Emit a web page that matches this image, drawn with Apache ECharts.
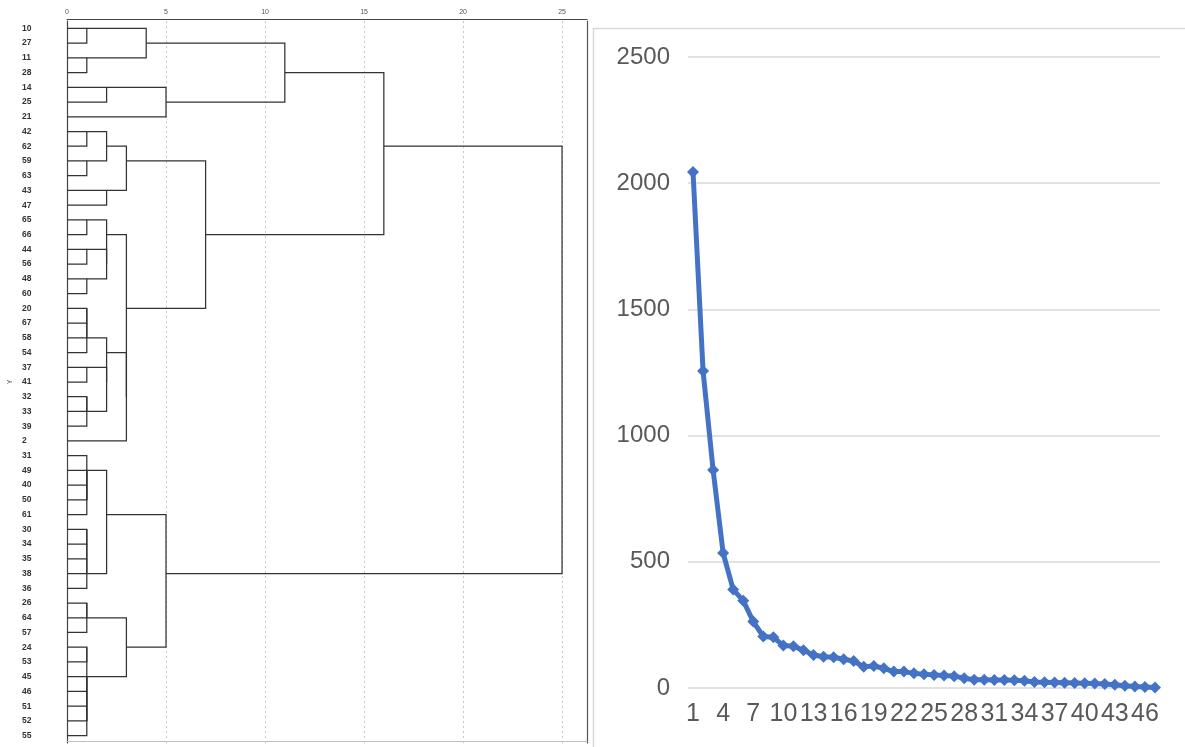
<!DOCTYPE html>
<html>
<head>
<meta charset="utf-8">
<script src="https://cdn.jsdelivr.net/npm/echarts@6/dist/echarts.min.js"></script>
<style>
html,body{margin:0;padding:0;background:#fff;}
#c{width:1185px;height:747px;}
</style>
</head>
<body>
<div id="c"></div>
<script>
// ---- Dendrogram data ----
const leafLabels = ['10','27','11','28','14','25','21','42','62','59','63','43','47','65','66','44','56','48','60','20','67','58','54','37','41','32','33','39','2','31','49','40','50','61','30','34','35','38','36','26','64','57','24','53','45','46','51','52','55'];
// merges: [childA, childB, rescaled distance]; children are leaf labels or 'm<index>'
const merges = [
  ['10','27',1], ['11','28',1], ['m0','m1',4], ['14','25',2], ['m3','21',5], ['m2','m4',11],
  ['42','62',1], ['59','63',1], ['m6','m7',2], ['43','47',2], ['m8','m9',3],
  ['65','66',1], ['44','56',1], ['48','60',1], ['m12','m13',2], ['m11','m14',2],
  ['20','67',1], ['m16','58',1], ['m17','54',1], ['37','41',1], ['32','33',1], ['m20','39',1],
  ['m19','m21',2], ['m18','m22',2], ['m23','2',3], ['m15','m24',3], ['m10','m25',7], ['m5','m26',16],
  ['49','40',1], ['m28','50',1], ['m29','61',1], ['31','m30',1],
  ['30','34',1], ['m32','35',1], ['m33','38',1], ['m34','36',1], ['m31','m35',2],
  ['26','64',1], ['m37','57',1], ['24','53',1], ['45','46',1], ['m40','51',1], ['m41','52',1], ['m42','55',1],
  ['m39','m43',1], ['m38','m44',3], ['m36','m45',5], ['m27','m46',25]
];
const distTicks = [0,5,10,15,20,25];

// ---- Line chart data ----
const lineCategories = ['1','2','3','4','5','6','7','8','9','10','11','12','13','14','15','16','17','18','19','20','21','22','23','24','25','26','27','28','29','30','31','32','33','34','35','36','37','38','39','40','41','42','43','44','45','46','47'];
const lineValues = [2044,1256,864,535,390,346,263,204,201,168,165,150,131,124,122,114,107,84,87,78,65,65,58,54,52,50,47,39,33,33,32,32,31,29,24,23,22,21,20,19,18,16,13,9,6,4,2];

// build dendrogram segments (row of a cluster = floor of the mid of its children's rows)
const nodeRow = {}, nodeH = {};
leafLabels.forEach((l,i)=>{ nodeRow[l]=i; nodeH[l]=0; });
const segData = [];
merges.forEach((m,k)=>{
  const [a,b,h] = m;
  const ra = nodeRow[a], rb = nodeRow[b];
  segData.push([nodeH[a], ra, h, rb, nodeH[b]]);
  nodeRow['m'+k] = Math.floor((ra+rb)/2);
  nodeH['m'+k] = h;
});

const chart = echarts.init(document.getElementById('c'), null, {renderer:'canvas'});
chart.setOption({
  backgroundColor:'#fff',
  animation:false,
  graphic:[{
    type:'rect', shape:{x:593.5,y:28.5,width:640,height:760},
    style:{fill:null, stroke:'#d9d9d9', lineWidth:1.5}, silent:true, z:-1
  }],
  grid:[
    {left:67, top:21, right:598, bottom:4, show:false},
    {left:688, top:57, right:25, bottom:59}
  ],
  xAxis:[
    {gridIndex:0, type:'value', position:'top', offset:2, min:0, max:26.26, interval:5,
     axisLine:{show:true, onZero:false, lineStyle:{color:'#444', width:1.2}},
     axisTick:{show:false},
     axisLabel:{show:true, showMaxLabel:false, fontSize:7, color:'#555', margin:3, fontFamily:'Liberation Sans',
       formatter:(v)=> distTicks.includes(v) ? String(v) : ''},
     splitLine:{show:true, lineStyle:{color:'#c8c8c8', type:[2,3], width:1}}
    },
    {gridIndex:0, type:'value', position:'bottom', offset:-2, min:0, max:26.26,
     axisLine:{show:true, onZero:false, lineStyle:{color:'#c0c0c0', width:1.2}},
     axisTick:{show:false}, axisLabel:{show:false}, splitLine:{show:false}
    },
    {gridIndex:1, type:'category', data:lineCategories, boundaryGap:true,
     axisLine:{show:false}, axisTick:{show:false},
     axisLabel:{interval:2, fontSize:25, color:'#595959', margin:14, fontFamily:'Liberation Sans'},
     splitLine:{show:false}
    }
  ],
  yAxis:[
    {gridIndex:0, type:'category', data:leafLabels, inverse:true, boundaryGap:true,
     name:'Y', nameLocation:'middle', nameGap:53, nameRotate:90,
     nameTextStyle:{fontSize:7, color:'#444', fontFamily:'Liberation Sans'},
     axisLine:{show:true, onZero:false, lineStyle:{color:'#444', width:1.2}},
     axisTick:{show:false},
     axisLabel:{interval:0, fontSize:8.5, color:'#333', fontWeight:'bold', align:'left', margin:45, fontFamily:'Liberation Sans'},
     splitLine:{show:false}
    },
    {gridIndex:0, type:'category', data:leafLabels, inverse:true, position:'right',
     axisLine:{show:true, onZero:false, lineStyle:{color:'#555', width:1.2}},
     axisTick:{show:false}, axisLabel:{show:false}, splitLine:{show:false}
    },
    {gridIndex:1, type:'value', min:0, max:2500, interval:500,
     axisLine:{show:false}, axisTick:{show:false},
     axisLabel:{fontSize:24, color:'#595959', margin:18, fontFamily:'Liberation Sans',
       formatter:(v)=> String(v)},
     splitLine:{show:true, lineStyle:{color:'#d9d9d9', width:1.5}}
    }
  ],
  series:[
    {type:'custom', xAxisIndex:0, yAxisIndex:0, data:segData, silent:true,
     encode:{x:[0,2,4], y:[1,3]},
     renderItem:function(params, api){
       const p1 = api.coord([api.value(0), api.value(1)]);
       const p2 = api.coord([api.value(2), api.value(1)]);
       const p3 = api.coord([api.value(2), api.value(3)]);
       const p4 = api.coord([api.value(4), api.value(3)]);
       return {type:'polyline', shape:{points:[p1,p2,p3,p4]},
         style:{fill:null, stroke:'#333', lineWidth:1.25}};
     }
    },
    {type:'line', xAxisIndex:2, yAxisIndex:2, data:lineValues,
     symbol:'diamond', symbolSize:12, showAllSymbol:true,
     lineStyle:{color:'#4472C4', width:5},
     itemStyle:{color:'#4472C4', borderWidth:0}
    }
  ]
});
</script>
</body>
</html>
